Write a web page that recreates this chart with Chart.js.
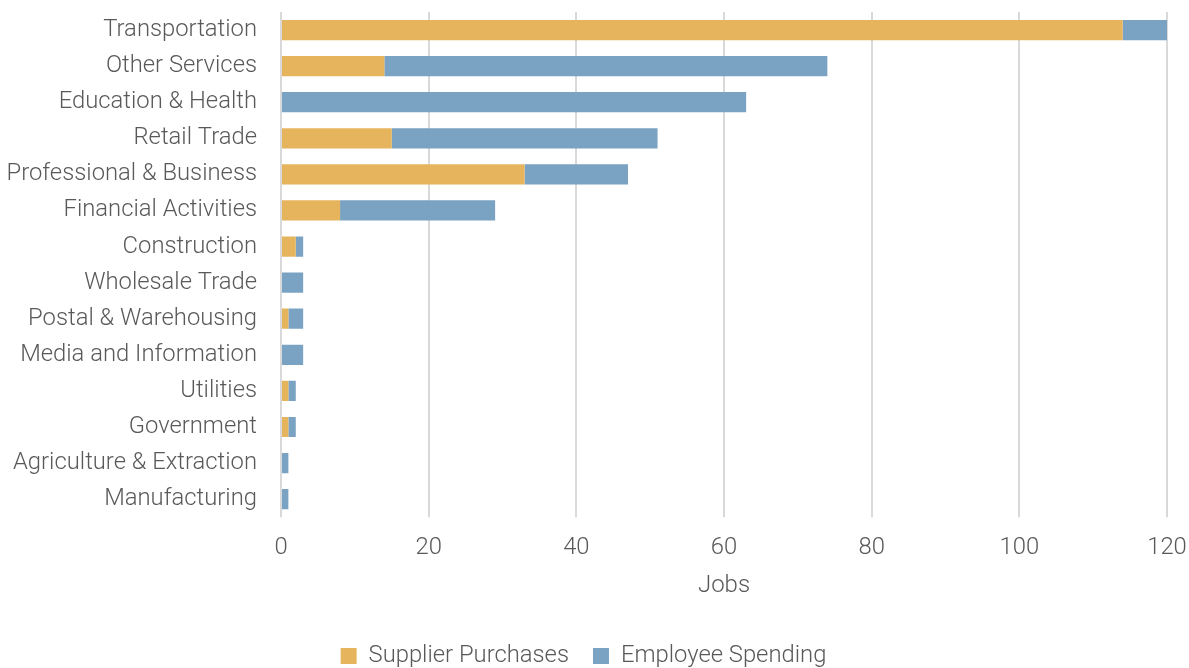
<!DOCTYPE html>
<html>
<head>
<meta charset="utf-8">
<script src="https://cdn.jsdelivr.net/npm/chart.js@4"></script>
<style>
  html, body { margin: 0; padding: 0; background: #fff; }
  #wrap { width: 1189px; height: 668px; }
</style>
</head>
<body>
<div id="wrap"><canvas id="c"></canvas></div>
<script>
const categories = [
  "Transportation", "Other Services", "Education & Health", "Retail Trade",
  "Professional & Business", "Financial Activities", "Construction",
  "Wholesale Trade", "Postal & Warehousing", "Media and Information",
  "Utilities", "Government", "Agriculture & Extraction", "Manufacturing"
];
const supplierPurchases = [114, 14, 0, 15, 33, 8, 2, 0, 1, 0, 1, 1, 0, 0];
const employeeSpending  = [6, 60, 63, 36, 14, 21, 1, 3, 2, 3, 1, 1, 1, 1];
const xTicks = [0, 20, 40, 60, 80, 100, 120];

const txt = "#595959";
const font = { family: "Roboto", weight: 300, size: 23.8 };

new Chart(document.getElementById("c"), {
  type: "bar",
  data: {
    labels: categories,
    datasets: [
      { label: "Supplier Purchases", data: supplierPurchases, backgroundColor: "#E6B45C",
        categoryPercentage: 1, barPercentage: 0.56 },
      { label: "Employee Spending", data: employeeSpending, backgroundColor: "#7AA2C2",
        categoryPercentage: 1, barPercentage: 0.56 }
    ]
  },
  options: {
    indexAxis: "y",
    responsive: true,
    maintainAspectRatio: false,
    animation: false,
    layout: { padding: { top: 12, right: 22, left: 0, bottom: -10 } },
    scales: {
      x: {
        stacked: true, min: 0, max: 120,
        afterBuildTicks: s => { s.ticks = xTicks.map(v => ({ value: v })); },
        grid: { color: "#D9D9D9", lineWidth: 2, tickLength: 0 },
        border: { display: false },
        ticks: { color: txt, font, padding: 17 },
        title: { display: true, text: "Jobs", color: txt, font: { family: "Roboto", weight: 300, size: 24 }, padding: { top: 8, bottom: 20 } },
        afterFit: s => { s.height = 103; s.paddingLeft = 0; s.paddingRight = 0; }
      },
      y: {
        stacked: true,
        grid: { display: false, drawTicks: false, tickLength: 0 },
        border: { display: false },
        ticks: { color: txt, font, padding: 24 },
        afterFit: s => { s.width = 281; s.paddingTop = 0; s.paddingBottom = 0; }
      }
    },
    plugins: {
      legend: {
        position: "bottom",
        labels: { color: txt, font, boxWidth: 16, boxHeight: 16, padding: 24 }
      },
      tooltip: { enabled: false }
    }
  }
});
</script>
</body>
</html>
